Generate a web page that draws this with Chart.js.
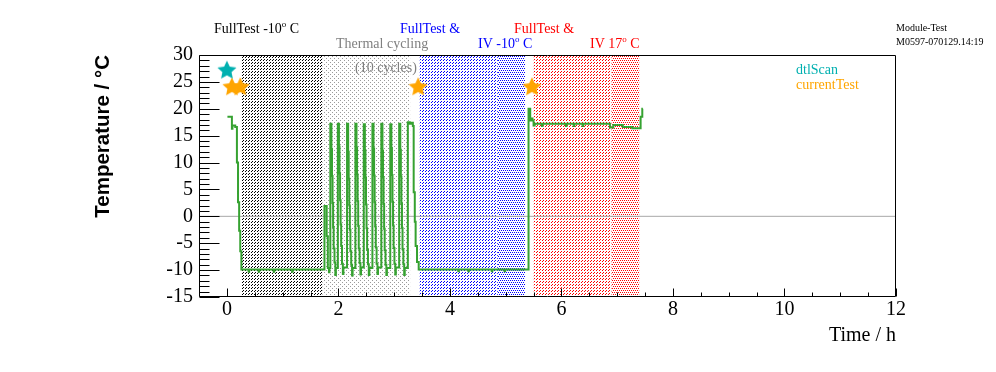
<!DOCTYPE html>
<html><head><meta charset="utf-8">
<script src="https://cdn.jsdelivr.net/npm/chart.js@4.4.1/dist/chart.umd.min.js"></script>
<style>html,body{margin:0;padding:0;background:#fff;}canvas{display:block;}</style>
</head><body>
<canvas id="c" width="996" height="372"></canvas>
<script>
// ---- data ----
const timeH = [0.01,0.09,0.10,0.15,0.18,0.20,0.22,0.24,0.26,0.39,0.40,0.57,0.58,0.84,0.85,1.17,1.18,
 1.75,1.79,1.81,1.83,1.84,
 1.855,1.875,1.885,1.895,1.905,1.915,1.93,1.945,1.955,
 1.99,2.01,2.02,2.03,2.04,2.05,2.065,2.08,2.09,
 2.155,2.175,2.185,2.195,2.205,2.215,2.23,2.245,2.255,
 2.305,2.325,2.335,2.345,2.355,2.365,2.38,2.395,2.405,
 2.455,2.475,2.485,2.495,2.505,2.515,2.53,2.545,2.555,
 2.61,2.63,2.64,2.65,2.66,2.67,2.685,2.70,2.71,
 2.77,2.79,2.80,2.81,2.82,2.83,2.845,2.86,2.87,
 2.93,2.95,2.96,2.97,2.98,2.99,3.005,3.02,3.03,
 3.09,3.11,3.12,3.13,3.14,3.15,3.165,3.18,3.19,
 3.245,3.28,3.30,3.335,3.35,3.37,3.385,3.41,3.44,
 4.15,4.16,4.33,4.34,4.75,4.76,4.98,4.99,
 5.41,5.44,5.46,5.48,5.50,5.52,5.65,5.66,6.08,6.09,6.22,6.23,6.38,6.39,
 6.87,6.93,7.10,7.27,7.42,7.45,7.46];
const tempC = [18.5,16.3,16.9,16.6,10.0,2.6,-2.7,-6.5,-9.9,-10.3,-9.9,-10.3,-9.9,-10.3,-9.9,-10.3,-9.9,
 1.9,-3.7,-9.6,-10.4,-9.6,
 17.2,12.5,7.5,2.5,-2.0,-6.0,-8.6,-10.9,-9.6,
 17.2,13.0,8.0,3.0,-1.5,-5.5,-8.8,-10.7,-9.5,
 17.2,12.0,7.0,2.0,-2.5,-6.5,-9.0,-11.0,-9.6,
 17.2,12.8,7.8,2.8,-1.8,-6.0,-8.7,-10.8,-9.5,
 17.1,12.3,7.2,2.2,-2.2,-6.2,-8.9,-10.9,-9.6,
 17.2,12.6,7.6,2.6,-1.9,-5.8,-8.8,-10.7,-9.5,
 17.2,12.2,7.3,2.3,-2.3,-6.3,-9.0,-10.9,-9.6,
 17.1,12.7,7.7,2.7,-1.7,-5.9,-8.8,-10.8,-9.5,
 17.2,12.4,7.4,2.4,-2.1,-6.1,-8.9,-10.9,-9.6,
 17.5,17.2,17.4,16.8,4.5,-1.0,-5.5,-8.5,-9.9,
 -10.2,-9.9,-10.2,-9.9,-10.2,-9.9,-10.2,-9.9,
 20.0,17.8,18.2,17.8,16.9,17.2,16.8,17.2,16.8,17.2,16.8,17.2,16.8,17.2,
 16.5,17.0,16.6,16.4,18.5,20.0,20.0];
const dtlScanT = [0.0];
const dtlScanY = [27.1];
const currentTestT = [0.09, 0.24, 3.43, 5.47];
const currentTestY = [24.0, 24.0, 24.0, 24.0];
const bandStart = [0.27, 1.71, 3.455, 4.86, 5.50, 6.90];
const bandEnd   = [1.71, 3.29, 4.86, 5.35, 6.90, 7.40];
const xTicks = [0, 2, 4, 6, 8, 10, 12];
const xTickLabels = ['0', '2', '4', '6', '8', '10', '12'];
const yTicks = [-15, -10, -5, 0, 5, 10, 15, 20, 25, 30];
const yTickLabels = ['-15', '-10', '-5', '0', '5', '10', '15', '20', '25', '30'];
const legendLabels = ['dtlScan', 'currentTest'];
const stepLabels = ['FullTest -10^{o} C', 'Thermal cycling', '(10 cycles)', 'FullTest &', 'IV -10^{o} C', 'FullTest &', 'IV 17^{o} C'];
const infoLabels = ['Module-Test', 'M0597-070129.14:19'];

// ---- styles ----
const canvas = document.getElementById('c');
const mainCtx = canvas.getContext('2d');
function makePattern(color, kind) {
  const t = document.createElement('canvas');
  if (kind === 'hatch') {
    t.width = 3; t.height = 3;
    const g = t.getContext('2d'); g.fillStyle = color;
    g.fillRect(0, 2, 1, 1); g.fillRect(2, 0, 1, 1);
  } else if (kind === 'dense') {
    t.width = 4; t.height = 4;
    const g = t.getContext('2d'); g.fillStyle = color;
    g.fillRect(0, 0, 1, 1); g.fillRect(2, 0, 1, 1); g.fillRect(1, 2, 1, 1); g.fillRect(3, 2, 1, 1);
  } else {
    t.width = 4; t.height = 4;
    const g = t.getContext('2d'); g.fillStyle = color;
    g.fillRect(0, 0, 1, 1); g.fillRect(2, 2, 1, 1);
  }
  return mainCtx.createPattern(t, 'repeat');
}
const bandFills = [makePattern('#000', 'hatch'), makePattern('#9a9a9a', 'dots'), makePattern('#0000ff', 'hatch'),
  makePattern('#0000ff', 'dense'), makePattern('#ff0000', 'hatch'), makePattern('#ff0000', 'dense')];
function starImg(color) {
  const c = document.createElement('canvas'); c.width = c.height = 22;
  const g = c.getContext('2d'); g.fillStyle = color; g.beginPath();
  for (let i = 0; i < 10; i++) {
    const r = i % 2 ? 4.8 : 10; const a = -Math.PI / 2 + i * Math.PI / 5;
    g.lineTo(11 + r * Math.cos(a), 11 + r * Math.sin(a));
  }
  g.closePath(); g.fill(); return c;
}
const TEAL = '#00b0b0', ORANGE = '#ffa500', GREEN = '#36a231';

const datasets = [];
bandStart.forEach((s, i) => datasets.push({
  data: [{x: s, y: 30}, {x: bandEnd[i], y: 30}], borderColor: 'rgba(0,0,0,0)', borderWidth: 1,
  pointRadius: 0, fill: 'start', backgroundColor: bandFills[i], order: 10
}));
datasets.push({data: [{x: -0.5, y: 0}, {x: 12, y: 0}], borderColor: '#a8a8a8', borderWidth: 1, pointRadius: 0, fill: false, order: 5});
datasets.push({data: timeH.map((t, i) => ({x: t, y: tempC[i]})), borderColor: GREEN, borderWidth: 2, pointRadius: 0,
  stepped: true, fill: false, order: 1});
datasets.push({data: dtlScanT.map((t, i) => ({x: t, y: dtlScanY[i]})), showLine: false, pointStyle: starImg(TEAL), pointRadius: 10, order: 0});
datasets.push({data: currentTestT.map((t, i) => ({x: t, y: currentTestY[i]})), showLine: false, pointStyle: starImg(ORANGE), pointRadius: 10, order: 0});

function drawRich(ctx, str, x, y, size) {
  const parts = str.split(/\^\{(.*?)\}/);
  let cx = x;
  parts.forEach((p, i) => {
    if (i % 2 === 1) {
      ctx.font = Math.round(size * 0.65) + 'px "Liberation Serif"';
      ctx.fillText(p, cx, y - size * 0.42); cx += ctx.measureText(p).width;
    } else {
      ctx.font = size + 'px "Liberation Serif"';
      ctx.fillText(p, cx, y); cx += ctx.measureText(p).width;
    }
  });
}

const decor = {
  id: 'decor',
  afterDatasetsDraw(chart) {
    const {ctx, chartArea: a, scales: {x, y}} = chart;
    ctx.save();
    ctx.strokeStyle = '#000'; ctx.lineWidth = 1;
    ctx.beginPath();
    const L = a.left + 0.5, R = Math.round(a.right) - 0.5, T = a.top + 0.5, B = Math.round(a.bottom) - 0.5;
    ctx.moveTo(L, T); ctx.lineTo(R, T); ctx.lineTo(R, B); ctx.lineTo(L, B); ctx.closePath();
    for (let v = -15; v <= 30; v++) {
      const py = Math.round(y.getPixelForValue(v)) + 0.5;
      const len = v % 5 === 0 ? 20 : 10;
      ctx.moveTo(L, py); ctx.lineTo(L + len, py);
    }
    for (let v = -0.5; v <= 12; v += 0.5) {
      const px = Math.round(x.getPixelForValue(v)) + 0.5;
      const len = v % 2 === 0 ? 8 : 4;
      ctx.moveTo(px, B); ctx.lineTo(px, B - len);
    }
    ctx.stroke();
    // annotations
    ctx.textBaseline = 'alphabetic'; ctx.textAlign = 'left';
    const pos = [[214, 33, '#000'], [336, 48, '#808080'], [355, 72, '#808080'], [400, 33, '#0000ff'],
      [478, 48, '#0000ff'], [514, 33, '#ff0000'], [590, 48, '#ff0000']];
    stepLabels.forEach((s, i) => { ctx.fillStyle = pos[i][2]; drawRich(ctx, s, pos[i][0], pos[i][1], 14); });
    ctx.fillStyle = '#000'; ctx.font = '10px "Liberation Serif"';
    ctx.fillText(infoLabels[0], 896, 31); ctx.fillText(infoLabels[1], 896, 45);
    ctx.font = '14px "Liberation Serif"';
    ctx.fillStyle = TEAL; ctx.fillText(legendLabels[0], 796, 74);
    ctx.fillStyle = ORANGE; ctx.fillText(legendLabels[1], 796, 89);
    ctx.restore();
  }
};

new Chart(mainCtx, {
  type: 'line',
  data: {datasets},
  options: {
    responsive: false, animation: false, devicePixelRatio: 1,
    layout: {padding: {left: 0, right: 100, top: 55, bottom: 0}},
    plugins: {legend: {display: false}, tooltip: {enabled: false}},
    scales: {
      x: {type: 'linear', min: -0.5, max: 12,
        afterBuildTicks(s) { s.ticks = xTicks.map(v => ({value: v})); },
        ticks: {callback: (v, i) => xTickLabels[i], font: {family: 'Liberation Serif', size: 20}, color: '#000', padding: 1, maxRotation: 0, autoSkip: false},
        grid: {display: false, drawTicks: false}, border: {display: false},
        title: {display: true, text: 'Time / h', align: 'end', color: '#000', font: {family: 'Liberation Serif', size: 20}, padding: {top: 0, bottom: 24}},
        afterFit(s) { s.height = 75; }},
      y: {type: 'linear', min: -15, max: 30,
        afterBuildTicks(s) { s.ticks = yTicks.map(v => ({value: v})); },
        ticks: {callback: (v, i) => yTickLabels[i], font: {family: 'Liberation Serif', size: 20}, color: '#000', padding: 6, autoSkip: false},
        grid: {display: false, drawTicks: false}, border: {display: false},
        title: {display: true, text: 'Temperature / °C', align: 'end', color: '#000', font: {family: 'Liberation Sans', size: 20.5, weight: 'bold'}, padding: {top: 91, bottom: 0}},
        afterFit(s) { s.width = 199; }}
    }
  },
  plugins: [decor]
});
</script>
</body></html>
